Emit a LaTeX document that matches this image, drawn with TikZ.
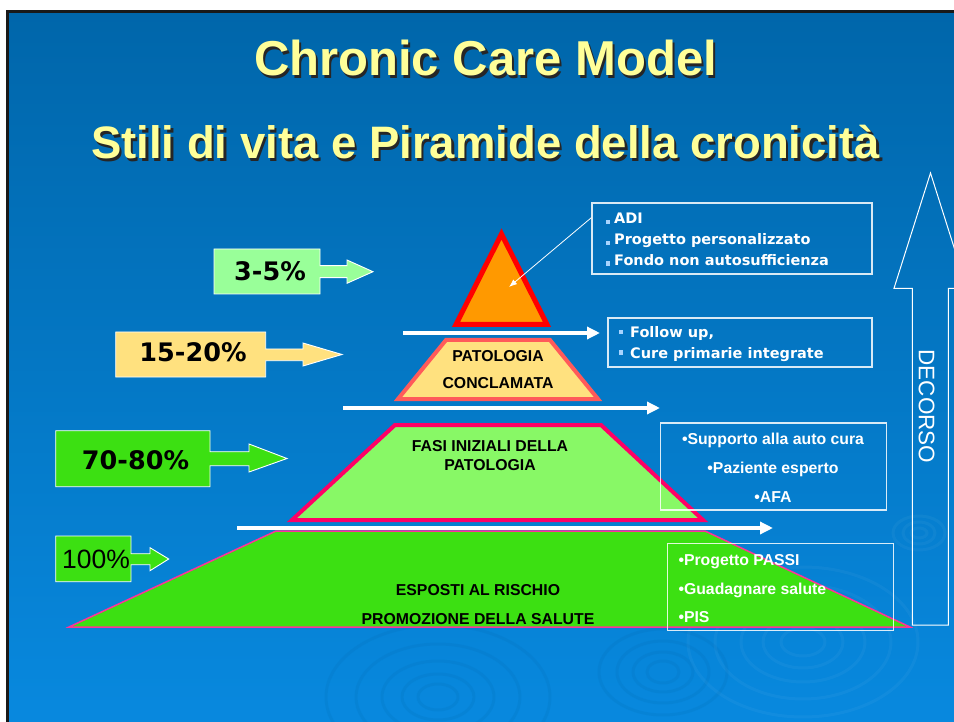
\documentclass[tikz,border=0pt]{standalone}
\usepackage{fontspec}
\setmainfont{Liberation Sans}
\newfontfamily\verd{DejaVu Sans}
\usetikzlibrary{arrows.meta,calc}
\definecolor{bgtop}{HTML}{0066AA}
\definecolor{bgmid}{HTML}{006AB2}
\definecolor{bgbot}{HTML}{0889DF}
\definecolor{titley}{HTML}{FFFF99}
\definecolor{orangef}{HTML}{FF9900}
\definecolor{redl}{HTML}{FF0000}
\definecolor{yelf}{HTML}{FFE17F}
\definecolor{coral}{HTML}{FF5A5A}
\definecolor{lgreen}{HTML}{88F866}
\definecolor{magl}{HTML}{FF0066}
\definecolor{green}{HTML}{3CE012}
\definecolor{pinkl}{HTML}{FF3399}
\definecolor{pgreen}{HTML}{99FF99}
\definecolor{bulc}{HTML}{A8D4FF}
\begin{document}
\begin{tikzpicture}[x=1pt,y=-1pt,
  wbox/.style={draw=white, draw opacity=0.85, line width=1.1pt, inner sep=0pt},
  warrow/.style={draw=white, line width=3.5pt, -{Triangle[length=13pt,width=12pt]}},
  lblshape/.style={draw=white, line width=0.9pt, line join=miter},
  titletxt/.style={font=\fontsize{49}{56}\selectfont\bfseries, anchor=base, inner sep=0pt},
  subtxt/.style={font=\fontsize{45.5}{52}\selectfont\bfseries, anchor=base, inner sep=0pt},
  pyrtxt/.style={font=\fontsize{15.8}{18}\selectfont\bfseries, anchor=base, inner sep=0pt, text=black},
  boxtxt/.style={font=\verd\fontsize{14.5}{17}\selectfont\bfseries, anchor=base west, inner sep=0pt, text=white},
  rtxt/.style={font=\fontsize{15.8}{18}\selectfont\bfseries, anchor=base, inner sep=0pt, text=white},
  pcttxt/.style={font=\verd\fontsize{25.5}{30}\selectfont\bfseries, anchor=base, inner sep=0pt, text=black},
  ripple/.style={draw=white, draw opacity=0.04, line width=3pt},
  ripdark/.style={draw=bgtop, draw opacity=0.14, line width=3pt},
]
\useasboundingbox (0,0) rectangle (954,722);
\clip (0,0) rectangle (954,722);
\fill[white] (0,0) rectangle (954,722);
% slide background
\shade[top color=bgtop, middle color=bgmid, bottom color=bgbot] (7.5,11.3) rectangle (960,730);
% ripples
\foreach \rx/\ry in {20/13,36/23,56/36,82/53,112/72} {\draw[ripdark] (438,697) ellipse ({\rx} and {\ry});}
\foreach \rx/\ry in {16/11,30/20,46/31,64/43} {\draw[ripdark] (663,672) ellipse ({\rx} and {\ry});}
\foreach \rx/\ry in {22/14,40/26,62/40,88/57,115/75} {\draw[ripple] (803,642) ellipse ({\rx} and {\ry});}
\foreach \rx/\ry in {8/5,16/11,26/17} {\draw[ripple] (919,533) ellipse ({\rx} and {\ry});}
\draw[black!90, line width=3pt] (7.5,730) -- (7.5,11.3) -- (960,11.3);

% titles
\node[titletxt, text=black!85] (t1s) at (488,78.5) {Chronic Care Model};
\node[titletxt, text=titley] (t1) at (485.5,76) {Chronic Care Model};
\node[subtxt, text=black!85] (t2s) at (488,161.5) {Stili di vita e Piramide della cronicità};
\node[subtxt, text=titley] (t2) at (485.5,159) {Stili di vita e Piramide della cronicità};

% bottom trapezoid
\filldraw[fill=green, draw=pinkl, line width=1.5pt] (69,627) -- (276,531) -- (705,531) -- (910,627) -- cycle;
\node[pyrtxt] (esp) at (478,595.3) {ESPOSTI AL RISCHIO};
\node[pyrtxt] (prom) at (478,624.3) {PROMOZIONE DELLA SALUTE};

% level 3 trapezoid
\filldraw[fill=lgreen, draw=magl, line width=4pt, line join=miter] (292,520) -- (395,425) -- (601,425) -- (703,520) -- cycle;
\node[pyrtxt] (fas1) at (490,451.7) {FASI INIZIALI DELLA};
\node[pyrtxt] (fas2) at (490,470.7) {PATOLOGIA};

% level 2 trapezoid
\filldraw[fill=yelf, draw=coral, line width=4pt, line join=miter] (398,399) -- (446,340) -- (550,340) -- (598,399) -- cycle;
\node[pyrtxt] (pat1) at (498,361.7) {PATOLOGIA};
\node[pyrtxt] (pat2) at (498,388.7) {CONCLAMATA};

% top triangle
\filldraw[fill=orangef, draw=redl, line width=5pt, line join=miter] (456,324.5) -- (501.5,234) -- (547,324.5) -- cycle;
\coordinate (triC) at (509,287);

% white arrows
\coordinate (a1s) at (403,333); \coordinate (a1e) at (600,333);
\coordinate (a2s) at (343,408); \coordinate (a2e) at (660,408);
\coordinate (a3s) at (237,528); \coordinate (a3e) at (773,528);
\draw[warrow] (a1s) -- (a1e);
\draw[warrow] (a2s) -- (a2e);
\draw[warrow] (a3s) -- (a3e);

% right boxes
\node[wbox, minimum width=280pt, minimum height=71pt] (b1) at (732,238.5) {};
\node[wbox, minimum width=264pt, minimum height=49pt] (b2) at (740,342.5) {};
\node[wbox, minimum width=226pt, minimum height=87pt] (b3) at (773.9,466.5) {};
\node[wbox, minimum width=226pt, minimum height=87pt] (b4) at (780.9,587.4) {};

\draw[white, line width=0.8pt, -{Latex[length=8pt,width=6pt]}] ($(b1.north west)!0.21!(b1.south west)$) -- (triC);

\foreach \yy in {219.8,240.8,261.5} {\fill[bulc] (605.5,\yy) rectangle (610,\yy+4.5);}
\node[boxtxt] (b1a) at (614,224) {ADI};
\node[boxtxt] (b1b) at (614,245) {Progetto personalizzato};
\node[boxtxt] (b1c) at (614,265.7) {Fondo non autosufficienza};
\foreach \yy in {334.2,354.8} {\fill[bulc] (618.8,\yy-4.5) rectangle (623.3,\yy);}
\node[boxtxt] (b2a) at (630,337.7) {Follow up,};
\node[boxtxt] (b2b) at (630,358.3) {Cure primarie integrate};

\node[rtxt] (b3a) at (773,444.3) {•Supporto alla auto cura};
\node[rtxt] (b3b) at (773,473.3) {•Paziente esperto};
\node[rtxt] (b3c) at (773,502.3) {•AFA};
\node[rtxt, anchor=base west] (b4a) at (678.3,565) {•Progetto PASSI};
\node[rtxt, anchor=base west] (b4b) at (678.3,594.3) {•Guadagnare salute};
\node[rtxt, anchor=base west] (b4c) at (678.3,622.7) {•PIS};

% left labels
\filldraw[lblshape, fill=pgreen] (214,249) -- (320,249) -- (320,265.7) -- (347,265.7) -- (347,260) -- (373,271.7) -- (347,283.3) -- (347,277.7) -- (320,277.7) -- (320,294) -- (214,294) -- cycle;
\node[pcttxt] (p1) at (270,280.7) {3-5\%};
\filldraw[lblshape, fill=yelf] (115.7,332) -- (265.7,332) -- (265.7,349) -- (303,349) -- (303,343) -- (342,354.5) -- (303,366) -- (303,360.7) -- (265.7,360.7) -- (265.7,377) -- (115.7,377) -- cycle;
\node[pcttxt] (p2) at (193,361.7) {15-20\%};
\filldraw[lblshape, fill=green] (55.7,430.7) -- (210,430.7) -- (210,451.7) -- (249,451.7) -- (249,444) -- (287,458.5) -- (249,472) -- (249,465.7) -- (210,465.7) -- (210,486.7) -- (55.7,486.7) -- cycle;
\node[pcttxt] (p3) at (135.5,469) {70-80\%};
\filldraw[lblshape, fill=green] (55.7,536) -- (131,536) -- (131,553.7) -- (150,553.7) -- (150,547.7) -- (168.7,559) -- (150,570.7) -- (150,564.7) -- (131,564.7) -- (131,581.7) -- (55.7,581.7) -- cycle;
\node[font=\fontsize{26.5}{30}\selectfont, anchor=base, inner sep=0pt, text=black] (p4) at (96,568.3) {100\%};

% DECORSO arrow
\draw[white, line width=1pt, line join=miter] (912.3,625) -- (912.3,288.3) -- (894,288.3) -- (930.5,173) -- (967,288.3) -- (948.3,288.3) -- (948.3,625) -- cycle;
\node[font=\fontsize{22.5}{26}\selectfont, text=white, rotate=-90, inner sep=0pt] (dec) at (926.7,406.5) {DECORSO};
\end{tikzpicture}
\end{document}
